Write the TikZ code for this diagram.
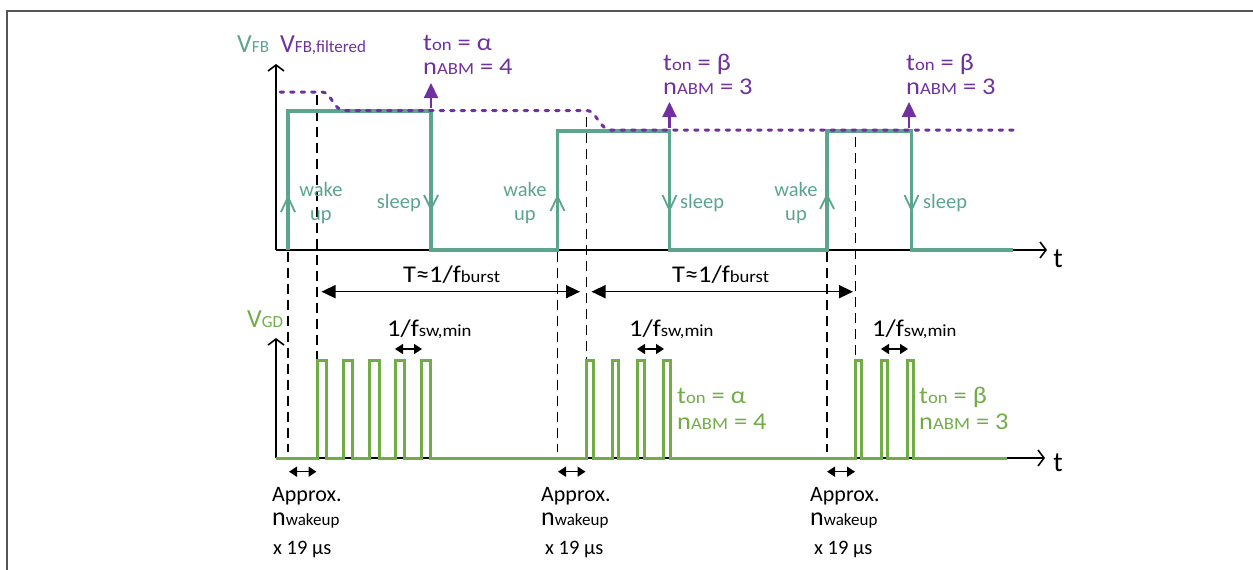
\documentclass[tikz,border=0pt]{standalone}
\usepackage{fontspec}
\setmainfont{Carlito}
\newfontfamily\wfont{Carlito}[FakeStretch=1.1]
\usetikzlibrary{arrows.meta}
\definecolor{fbgreen}{RGB}{91,164,141}
\definecolor{gdgreen}{RGB}{112,173,71}
\definecolor{fbpurple}{RGB}{112,48,160}
\definecolor{framegray}{RGB}{85,85,85}
\newcommand{\fsz}[1]{\fontsize{#1}{#1}\selectfont}
\newcommand{\sbs}[1]{{\fsz{17}#1}}
\newcommand{\sbb}[1]{{\fsz{17}#1}}
\tikzset{
  axisline/.style={line width=1.8pt, black, -{Straight Barb[length=6pt,width=16pt,line width=1.6pt]}},
  fbsig/.style={line width=3.2pt, fbgreen, line join=miter},
  gdsig/.style={line width=3pt, gdgreen, line join=miter},
  filt/.style={line width=3pt, fbpurple, line cap=round, dash pattern=on 3.5pt off 7pt},
  guide/.style={line width=1.8pt, black, dash pattern=on 10pt off 6pt},
  parrow/.style={line width=2.2pt, fbpurple, -{Triangle[length=15pt,width=14pt]}},
  tarrow/.style={line width=1.5pt, black, {Triangle[length=14pt,width=13pt]}-{Triangle[length=14pt,width=13pt]}},
  sarrow/.style={line width=1.5pt, black, {Triangle[length=8pt,width=10pt]}-{Triangle[length=8pt,width=10pt]}},
  chev/.style={line width=1.8pt, fbgreen},
  lbl/.style={inner sep=0pt, anchor=base west, font=\wfont\fsz{24}},
  plbl/.style={inner sep=0pt, anchor=base west, font=\fsz{22}},
  wlbl/.style={inner sep=0pt, font=\fsz{20.5}, text=fbgreen},
}
\begin{document}
\begin{tikzpicture}[x=1pt,y=-1pt]
\useasboundingbox (0,0) rectangle (1253,570);
% frame
\draw[framegray, line width=2pt] (7,570) -- (7,10.5) -- (1253,10.5);

% guide lines
\draw[guide] (288,252) -- (288,452);
\draw[guide] (317,95) -- (317,360);
\draw[guide] (557.5,252) -- (557.5,452);
\draw[guide] (586.5,117) -- (586.5,360);
\draw[guide] (827,252) -- (827,452);
\draw[guide] (855.5,137) -- (855.5,360);

% top axes
\coordinate (o1) at (276,250);
\draw[axisline] (o1) -- (276,64);
\draw[axisline] (o1) -- (1047,250);
\node[inner sep=0pt, font=\fsz{28}] (t1) at (1058,259) {t};

% VFB signal
\draw[fbsig] (288,250) -- (288,111) -- (431,111) -- (431,250) -- (557.5,250) -- (557.5,131)
  -- (669.5,131) -- (669.5,250) -- (827,250) -- (827,131) -- (911.5,131) -- (911.5,250) -- (1013,250);

% filtered
\draw[filt] (280,92) -- (322,92) .. controls (331,92) and (334,110.5) .. (344,110.5) -- (587,110.5)
  .. controls (596,110.5) and (600,130) .. (611,130) -- (1013,130);

% purple arrows
\draw[parrow] (431,108) -- (431,83);
\draw[parrow] (669.5,128) -- (669.5,102);
\draw[parrow] (909,128) -- (909,102);

% chevrons
\draw[chev] (281,212) -- (288,197) -- (295,212);
\draw[chev] (424,195) -- (431,209) -- (438,195);
\draw[chev] (550.5,211) -- (557.5,196.5) -- (564.5,211);
\draw[chev] (662.5,195) -- (669.5,210) -- (676.5,195);
\draw[chev] (820,209) -- (827,195) -- (834,209);
\draw[chev] (904.5,195) -- (911.5,210) -- (918.5,195);

% labels top
\node[plbl, text=fbgreen] (vfb) at (237,52) {\fsz{26}V\sbb{FB}};
\node[plbl, text=fbpurple] (vfbf) at (280,52) {\fsz{26}V\sbb{FB,filtered}};
\node[lbl, text=fbpurple] (a1) at (423,50) {t\sbs{on} = α};
\node[lbl, text=fbpurple] (a2) at (423,74) {n\sbs{ABM} = 4};
\node[lbl, text=fbpurple] (b1) at (663,70) {t\sbs{on} = β};
\node[lbl, text=fbpurple] (b2) at (663,94) {n\sbs{ABM} = 3};
\node[lbl, text=fbpurple] (c1) at (906,70) {t\sbs{on} = β};
\node[lbl, text=fbpurple] (c2) at (906,94) {n\sbs{ABM} = 3};

\node[wlbl, anchor=base] (w1a) at (321,196) {wake};
\node[wlbl, anchor=base] (w1b) at (321,220) {up};
\node[wlbl, anchor=base] (w2a) at (525,196) {wake};
\node[wlbl, anchor=base] (w2b) at (525,220) {up};
\node[wlbl, anchor=base] (w3a) at (796,196) {wake};
\node[wlbl, anchor=base] (w3b) at (796,220) {up};
\node[wlbl, anchor=base east] (s1) at (421,208) {sleep};
\node[wlbl, anchor=base west] (s2) at (680,208) {sleep};
\node[wlbl, anchor=base west] (s3) at (923,208) {sleep};

% period arrows
\draw[tarrow] (321.5,291.7) -- (580,291.7);
\draw[tarrow] (591.5,291.7) -- (853,291.7);
\node[lbl] (T1) at (403,282) {T≈1/f\sbs{burst}};
\node[lbl] (T2) at (672,282) {T≈1/f\sbs{burst}};

% bottom axes
\coordinate (o2) at (276,458);
\draw[axisline] (o2) -- (276,338);
\draw[axisline] (o2) -- (1045,458);
\node[inner sep=0pt, font=\fsz{28}] (t2) at (1058,463) {t};
\node[plbl, text=gdgreen] (vgd) at (247,327) {\fsz{26}V\sbb{GD}};

% VGD signal
\draw[gdsig] (276,458)
  \foreach \a/\b in {317/326,343/352,369/379,395.5/404.5,421.5/430.5,586.5/593,612/618.5,637.5/644.5,663/670.5,855.5/861,881/887,907/913}
  { -- (\a,458) -- (\a,360) -- (\b,360) -- (\b,458) } -- (1007,458);

% switching period
\draw[sarrow] (395,349) -- (422,349);
\draw[sarrow] (637,349) -- (664,349);
\draw[sarrow] (881,349) -- (908,349);
\node[lbl] (f1) at (387,336) {1/f\sbs{sw,min}};
\node[lbl] (f2) at (629,336) {1/f\sbs{sw,min}};
\node[lbl] (f3) at (872,336) {1/f\sbs{sw,min}};

% bottom green labels
\node[lbl, text=gdgreen] (g1) at (677,403) {t\sbs{on} = α};
\node[lbl, text=gdgreen] (g2) at (677,429) {n\sbs{ABM} = 4};
\node[lbl, text=gdgreen] (h1) at (919,403) {t\sbs{on} = β};
\node[lbl, text=gdgreen] (h2) at (919,429) {n\sbs{ABM} = 3};

% wakeup arrows
\draw[sarrow] (289,471.7) -- (316.5,471.7);
\draw[sarrow] (558,471.7) -- (585.5,471.7);
\draw[sarrow] (827,471.7) -- (855,471.7);

\node[plbl] (ap1) at (272,501) {Approx.};
\node[plbl] (n1) at (272,525) {\fsz{26}n\sbb{wakeup}};
\node[plbl, font=\fsz{20.5}] (x1) at (273,554) {x 19 µs};
\node[plbl] (ap2) at (541,501) {Approx.};
\node[plbl] (n2) at (541,525) {\fsz{26}n\sbb{wakeup}};
\node[plbl, font=\fsz{20.5}] (x2) at (545,554) {x 19 µs};
\node[plbl] (ap3) at (810,501) {Approx.};
\node[plbl] (n3) at (810,525) {\fsz{26}n\sbb{wakeup}};
\node[plbl, font=\fsz{20.5}] (x3) at (814,554) {x 19 µs};
\end{tikzpicture}
\end{document}
